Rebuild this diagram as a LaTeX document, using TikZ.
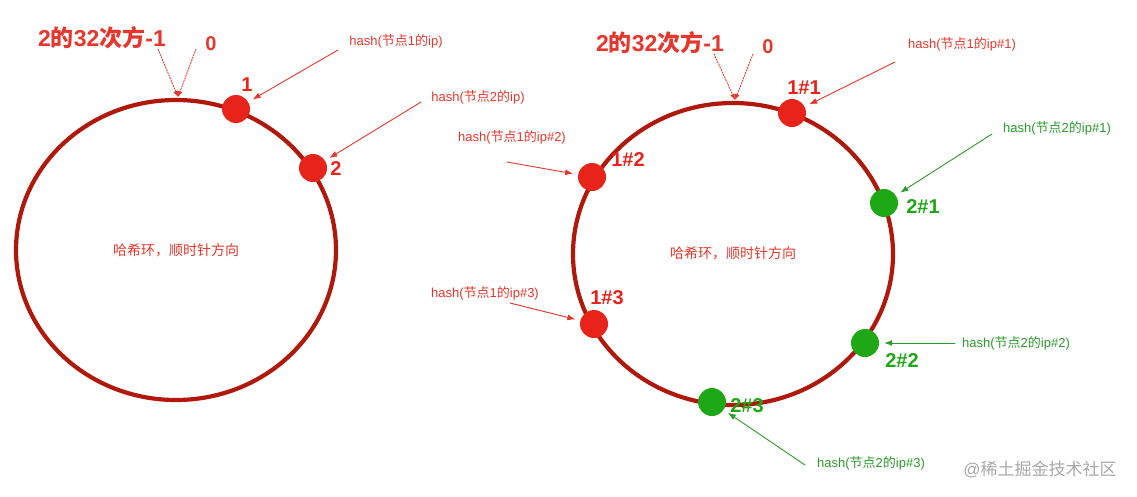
\documentclass[tikz,border=0pt]{standalone}
\usepackage{fontspec}
\setmainfont{Liberation Sans}
\newfontfamily\cjk{Noto Sans CJK SC}
\newcommand{\zh}[1]{{\cjk #1}}
\usetikzlibrary{arrows.meta}
\definecolor{ringred}{HTML}{B0180B}
\definecolor{dotred}{HTML}{E8241A}
\definecolor{txtred}{HTML}{E5372D}
\definecolor{dotgreen}{HTML}{1FA815}
\definecolor{txtgreen}{HTML}{2C9A2C}
\definecolor{wmgray}{HTML}{A8A8A8}

\begin{document}
\begin{tikzpicture}[x=1pt,y=-1pt,>={Latex[length=8pt,width=6pt]},line cap=round,line join=round,
  ring/.style={draw=ringred,line width=4.2pt},
  dotr/.style={circle,fill=dotred,inner sep=0pt,minimum size=28pt},
  dotg/.style={circle,fill=dotgreen,inner sep=0pt,minimum size=28pt},
  big/.style={font=\fontsize{20}{20}\selectfont\bfseries,inner sep=0pt},
  title/.style={font=\fontsize{23}{23}\selectfont\bfseries,inner sep=0pt,text=txtred},
  note/.style={font=\fontsize{13}{13}\selectfont,inner sep=0pt},
  arr/.style={->,line width=0.9pt,shorten >=5pt},
  hint/.style={->,line width=0.9pt,dash pattern=on 1.4pt off 1.4pt,txtred,>={Latex[length=6pt,width=5pt]}}]
  \useasboundingbox (0,0) rectangle (1137,496);

  \draw[ring] (176,250) ellipse[x radius=160,y radius=150];
  \draw[ring] (733,254) ellipse[x radius=160,y radius=151];

  % left ring
  \node[title] (max1) at (102,38) {2\zh{的}32\zh{次方}-1};
  \node[big,txtred] (zero1) at (211,44) {0};
  \coordinate (top1) at (178,97);
  \coordinate (m1) at (158,49);
  \coordinate (z1) at (196,49);
  \draw[hint] (m1) -- (top1);
  \draw[hint] (z1) -- (top1);

  \node[dotr] (d1) at (236,109) {};
  \node[dotr] (d2) at (313,168) {};
  \node[big,dotred] (n1) at (247,85) {1};
  \node[big,dotred] (n2) at (336,169) {2};
  \node[note,txtred] (h1) at (396,41) {hash(\zh{节点}1\zh{的}ip)};
  \node[note,txtred] (h2) at (478,97) {hash(\zh{节点}2\zh{的}ip)};
  \coordinate (s1) at (338,50);
  \coordinate (s2) at (421,102);
  \node[note,txtred,font=\fontsize{14}{14}\selectfont] (ring1) at (176,250) {\zh{哈希环，顺时针方向}};

  % right ring
  \node[title] (max2) at (660,43) {2\zh{的}32\zh{次方}-1};
  \node[big,txtred] (zero2) at (768,47) {0};
  \coordinate (top2) at (735,100);
  \coordinate (m2) at (714,54);
  \coordinate (z2) at (753,54);
  \draw[hint] (m2) -- (top2);
  \draw[hint] (z2) -- (top2);

  \node[dotr] (d11) at (792,113) {};
  \node[dotr] (d12) at (592,177) {};
  \node[dotr] (d13) at (594,324) {};
  \node[dotg] (d21) at (884,203) {};
  \node[dotg] (d22) at (865,343) {};
  \node[dotg] (d23) at (712,402) {};
  \node[big,dotred] (n11) at (804,88) {1\#1};
  \node[big,dotred] (n12) at (628,160) {1\#2};
  \node[big,dotred] (n13) at (607,298) {1\#3};
  \node[big,dotgreen] (n21) at (923,207) {2\#1};
  \node[big,dotgreen] (n22) at (902,361) {2\#2};
  \node[big,dotgreen] (n23) at (747,406) {2\#3};

  \node[note,txtred] (h11) at (962,44) {hash(\zh{节点}1\zh{的}ip\#1)};
  \node[note,txtred] (h12) at (512,137) {hash(\zh{节点}1\zh{的}ip\#2)};
  \node[note,txtred] (h13) at (485,293) {hash(\zh{节点}1\zh{的}ip\#3)};
  \node[note,txtgreen] (h21) at (1057,128) {hash(\zh{节点}2\zh{的}ip\#1)};
  \node[note,txtgreen] (h22) at (1016,343) {hash(\zh{节点}2\zh{的}ip\#2)};
  \node[note,txtgreen] (h23) at (871,463) {hash(\zh{节点}2\zh{的}ip\#3)};
  \coordinate (s11) at (895,62);
  \coordinate (s12) at (507,162);
  \coordinate (s13) at (510,303);
  \coordinate (s21) at (992,134);
  \coordinate (s22) at (955,343);
  \coordinate (s23) at (805,465);
  \node[note,txtred,font=\fontsize{14}{14}\selectfont] (ring2) at (733,253) {\zh{哈希环，顺时针方向}};

  \foreach \s/\d in {s1/d1,s2/d2,s11/d11,s12/d12,s13/d13}
    \draw[arr,txtred] (\s) -- (\d);
  \foreach \s/\d in {s21/d21,s22/d22,s23/d23}
    \draw[arr,txtgreen] (\s) -- (\d);

  \node[font=\fontsize{17}{17}\selectfont,text=wmgray,inner sep=0pt] (wm) at (1040,469) {@\zh{稀土掘金技术社区}};
\end{tikzpicture}
\end{document}
